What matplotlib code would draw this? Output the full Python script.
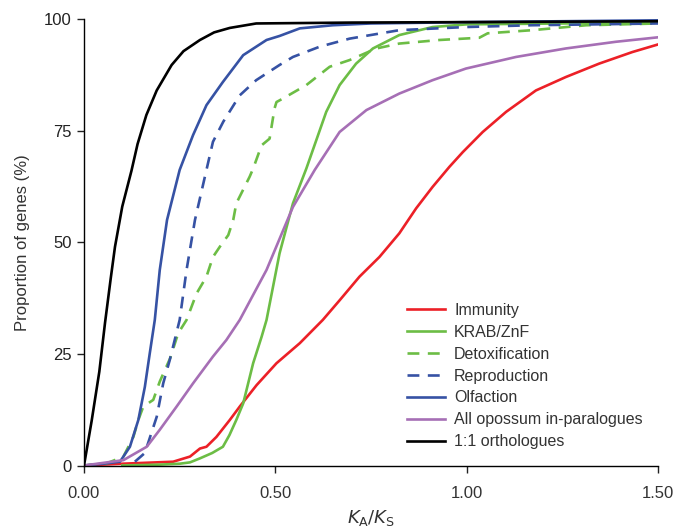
import matplotlib
matplotlib.use("Agg")
import matplotlib.pyplot as plt

plt.rcParams['font.family'] = ['Liberation Sans', 'DejaVu Sans']

# ---- data ----
ortho_x = [0, 0.02, 0.04, 0.055, 0.07, 0.081, 0.10, 0.124, 0.14, 0.163, 0.19, 0.229, 0.26, 0.303, 0.34, 0.381, 0.45, 0.7, 1.0, 1.5]
ortho_y = [0, 10, 21, 32, 42, 49, 58, 66, 72, 78.5, 84, 89.7, 92.8, 95.3, 97, 98, 99, 99.2, 99.3, 99.5]

olf_x = [0, 0.05, 0.094, 0.12, 0.142, 0.159, 0.172, 0.185, 0.198, 0.217, 0.25, 0.285, 0.32, 0.363, 0.416, 0.477, 0.511, 0.564, 0.65, 0.75, 1.0, 1.5]
olf_y = [0, 0.4, 0.85, 4.2, 10.2, 17.6, 25.2, 32.6, 43.8, 55, 66.2, 74, 80.7, 85.9, 91.9, 95.3, 96.2, 97.9, 98.6, 99, 99.3, 99.7]

rep_x = [0.133, 0.159, 0.19, 0.207, 0.224, 0.25, 0.268, 0.29, 0.32, 0.337, 0.364, 0.407, 0.45, 0.511, 0.546, 0.616, 0.694, 0.824, 0.998, 1.17, 1.5]
rep_y = [0.85, 2.8, 10.9, 18.4, 23.6, 32.6, 43.8, 55, 66.2, 72.5, 77, 82.9, 86.3, 89.7, 91.5, 93.8, 95.6, 97.5, 98.2, 98.6, 99.0]

det_x = [0, 0.06, 0.103, 0.129, 0.142, 0.155, 0.181, 0.198, 0.225, 0.246, 0.268, 0.294, 0.32, 0.337, 0.355, 0.377, 0.39, 0.398, 0.433, 0.442, 0.464, 0.485, 0.498, 0.503, 0.52, 0.581, 0.642, 0.694, 0.764, 0.824, 0.929, 1.033, 1.055, 1.172, 1.312, 1.5]
det_y = [0, 0.5, 2, 6.4, 10.2, 13.2, 14.7, 18.8, 24, 29.6, 32.6, 38.5, 42.3, 46.7, 49, 51.6, 55, 58.7, 64.7, 66.5, 71.7, 73.2, 80, 81.4, 82.2, 85.2, 89.3, 90.8, 93.4, 94.5, 95.3, 95.8, 96.8, 97.5, 98.6, 99.0]

krab_x = [0.1, 0.2, 0.25, 0.277, 0.303, 0.335, 0.363, 0.38, 0.398, 0.416, 0.442, 0.464, 0.477, 0.511, 0.546, 0.581, 0.633, 0.668, 0.711, 0.755, 0.824, 0.911, 1.0, 1.5]
krab_y = [0, 0.2, 0.4, 0.7, 1.6, 2.8, 4.2, 6.8, 10.2, 13.9, 22.9, 28.8, 32.6, 47.5, 58.7, 66.5, 79.2, 85.2, 90, 93.4, 96.4, 98.2, 98.8, 99.2]

imm_x = [0, 0.1, 0.233, 0.277, 0.303, 0.32, 0.346, 0.381, 0.407, 0.451, 0.503, 0.564, 0.624, 0.668, 0.72, 0.772, 0.824, 0.868, 0.911, 0.955, 0.99, 1.042, 1.103, 1.181, 1.259, 1.346, 1.433, 1.5]
imm_y = [0, 0.4, 0.85, 2, 3.8, 4.2, 6.4, 10.2, 13.2, 18, 22.9, 27.4, 32.6, 37, 42.3, 46.7, 52, 57.6, 62.4, 66.9, 70.2, 74.7, 79.2, 84, 87, 90, 92.6, 94.3]

para_x = [0, 0.103, 0.164, 0.198, 0.242, 0.285, 0.337, 0.372, 0.407, 0.477, 0.546, 0.603, 0.668, 0.738, 0.824, 0.911, 0.998, 1.129, 1.259, 1.39, 1.5]
para_y = [0, 1.2, 4.2, 8, 13.2, 18.4, 24.4, 28.1, 32.6, 43.8, 57.9, 66.2, 74.7, 79.6, 83.3, 86.3, 88.9, 91.5, 93.4, 94.9, 95.9]

labels = ["Immunity", "KRAB/ZnF", "Detoxification", "Reproduction", "Olfaction",
          "All opossum in-paralogues", "1:1 orthologues"]
x_ticks = [0, 0.5, 1.0, 1.5]
x_ticklabels = ["0.00", "0.50", "1.00", "1.50"]
y_ticks = [0, 25, 50, 75, 100]

RED = "#ec2027"
GREEN = "#6cbd45"
BLUE = "#3652a4"
PURPLE = "#a66fb5"
BLACK = "#000000"
dash = (0, (4.5, 3.2))

fig = plt.figure(figsize=(6.88, 5.28), dpi=100)
ax = fig.add_axes([84/688, 1-465.5/528, (658-84)/688, (465.5-19)/528])

lw = 1.9
l_imm, = ax.plot(imm_x, imm_y, color=RED, lw=lw, label=labels[0])
l_krab, = ax.plot(krab_x, krab_y, color=GREEN, lw=lw, label=labels[1])
l_det, = ax.plot(det_x, det_y, color=GREEN, lw=lw, ls=dash, label=labels[2])
l_rep, = ax.plot(rep_x, rep_y, color=BLUE, lw=lw, ls=dash, label=labels[3])
l_olf, = ax.plot(olf_x, olf_y, color=BLUE, lw=lw, label=labels[4])
l_para, = ax.plot(para_x, para_y, color=PURPLE, lw=lw, label=labels[5])
l_ortho, = ax.plot(ortho_x, ortho_y, color=BLACK, lw=lw, label=labels[6])

ax.set_xlim(0, 1.5)
ax.set_ylim(0, 100)
ax.spines['top'].set_visible(False)
ax.spines['right'].set_visible(False)
for s in ['left', 'bottom']:
    ax.spines[s].set_linewidth(1.0)
ax.set_xticks(x_ticks)
ax.set_xticklabels(x_ticklabels)
ax.set_yticks(y_ticks)
ax.tick_params(direction='out', length=5, width=1.0, labelsize=12, colors='#222222', pad=4)
for lab in ax.get_xticklabels():
    lab.set_color('#333333')
ax.tick_params(axis='x', pad=10)

ax.set_ylabel("Proportion of genes (%)", fontsize=12, color='#333333', labelpad=10)
ax.set_xlabel(r"$\mathit{K}_{\mathrm{A}}/\mathit{K}_{\mathrm{S}}$", fontsize=13, color='#333333', labelpad=5)

handles = [l_imm, l_krab, l_det, l_rep, l_olf, l_para, l_ortho]
leg = fig.legend(handles, labels, loc='upper left', bbox_to_anchor=(407/688, 1-303/528),
                 frameon=False, fontsize=11.5, handlelength=2.4, handletextpad=0.55,
                 labelspacing=0.43, borderaxespad=0, borderpad=0)
for t in leg.get_texts():
    t.set_color('#333333')

fig.savefig("out.png", dpi=100)
